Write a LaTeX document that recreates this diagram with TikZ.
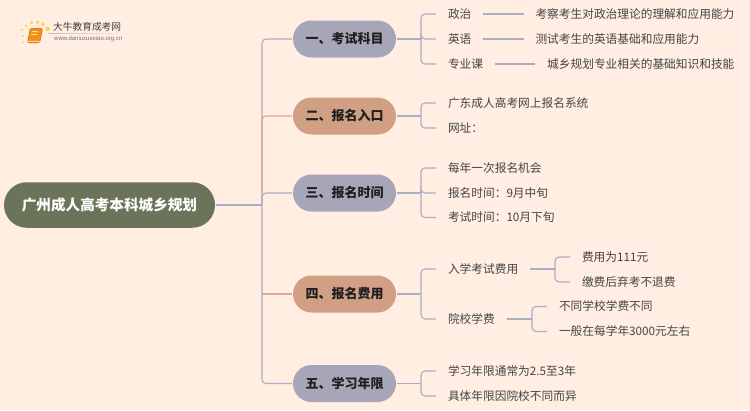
\documentclass[tikz,border=0pt]{standalone}
\usepackage{fontspec}
\setmainfont{Noto Sans CJK SC}
\newfontfamily\latinf{Liberation Sans}
\definecolor{bgc}{HTML}{FFEEE1}
\definecolor{rootc}{HTML}{6B7359}
\definecolor{greyc}{HTML}{A6A6B8}
\definecolor{salmc}{HTML}{D1A084}
\definecolor{linec}{HTML}{ABADC6}
\definecolor{linesc}{HTML}{E0A98C}
\definecolor{txtc}{HTML}{444444}
\definecolor{dotc}{HTML}{FFD24D}
\definecolor{bookc}{HTML}{F0920F}
\definecolor{bookd}{HTML}{E0760A}
\usetikzlibrary{fadings}
\tikzset{
 rootbox/.style={rounded corners=22.7pt,fill=rootc,text=white,font=\fontsize{14.6}{16}\selectfont\bfseries,minimum width=211pt,minimum height=45.5pt,inner sep=0pt,outer sep=1pt},
 topicbox/.style={rounded corners=18.5pt,text=black!88,font=\fontsize{13}{15}\selectfont\bfseries,minimum width=103pt,minimum height=37pt,inner sep=0pt,outer sep=1pt},
 leafbox/.style={anchor=west,text=txtc,font=\fontsize{11.7}{14}\selectfont,inner xsep=12pt,inner ysep=2pt,outer sep=0pt},
 conn/.style={draw=linec,line width=1.1pt,rounded corners=4pt},
 conns/.style={draw=linesc,line width=1.1pt,rounded corners=4pt},
}
\begin{document}
\begin{tikzpicture}[x=1pt,y=-1pt]
\useasboundingbox (0,0) rectangle (750,410);
\fill[bgc] (0,0) rectangle (750,410);
% logo
\fill[dotc] (22,30) circle (1.2) (26,25.7) circle (1.4) (31.7,22.7) circle (1.7) (37.7,22.3) circle (1.9) (43,24.3) circle (1.9) (47.7,29) circle (2.2) (22.7,36) circle (1.1) (23.3,42.3) circle (0.9);
\fill[bookd,rounded corners=1.5pt] (27,43) -- (30,28) -- (43,28) -- (40,43) -- cycle;
\fill[white!70!orange] (27.8,40.6) -- (39.6,40.6) -- (39.3,41.8) -- (27.6,41.8) -- cycle;
\fill[bookc,rounded corners=1pt] (28.2,40.4) -- (30.8,28.5) -- (42.3,28.5) -- (39.6,40.4) -- cycle;
\fill[white!70!orange] (32,31) -- (38,31) -- (37.8,32.2) -- (31.8,32.2) -- cycle (31.4,34) -- (37.4,34) -- (37.2,35) -- (31.2,35) -- cycle;
\fill[black!25,path fading=east] (48,33) rectangle (130,33.8);
\node[inner sep=0pt,anchor=west,text=black!75,font=\fontsize{9.7}{11}\selectfont] (logot) at (53,27) {大牛教育成考网};
\node[inner sep=0pt,anchor=west,text=black!55,font=\latinf\fontsize{6}{7}\selectfont] (logou) at (54,39) {www.daniuxuexiao.org.cn};
% root and topics
\node[rootbox] (root) at (109.5,205) {广州成人高考本科城乡规划};
\node[topicbox,fill=greyc] (t1) at (344.5,39) {一、考试科目};
\node[topicbox,fill=salmc] (t2) at (344.5,116) {二、报名入口};
\node[topicbox,fill=greyc] (t3) at (344.5,193) {三、报名时间};
\node[topicbox,fill=salmc] (t4) at (344.5,294) {四、报名费用};
\node[topicbox,fill=greyc] (t5) at (344.5,383.5) {五、学习年限};
% leaves
\node[leafbox] (a1) at (436,14) {政治};
\node[leafbox] (a2) at (436,39) {英语};
\node[leafbox] (a3) at (436,64) {专业课};
\node[leafbox] (a1x) at (523.5,14) {考察考生对政治理论的理解和应用能力};
\node[leafbox] (a2x) at (523.5,39) {测试考生的英语基础和应用能力};
\node[leafbox] (a3x) at (535.2,64) {城乡规划专业相关的基础知识和技能};
\node[leafbox] (b1) at (436,103) {广东成人高考网上报名系统};
\node[leafbox] (b2) at (436,128) {网址：};
\node[leafbox] (c1) at (436,168) {每年一次报名机会};
\node[leafbox] (c2) at (436,193) {报名时间：9月中旬};
\node[leafbox] (c3) at (436,217.5) {考试时间：10月下旬};
\node[leafbox] (d1) at (436,269) {入学考试费用};
\node[leafbox] (d2) at (436,319) {院校学费};
\node[leafbox] (d1a) at (570,257) {费用为111元};
\node[leafbox] (d1b) at (570,282) {缴费后弃考不退费};
\node[leafbox] (d2a) at (547,306.5) {不同学校学费不同};
\node[leafbox] (d2b) at (547,331.5) {一般在每学年3000元左右};
\node[leafbox] (e1) at (436,371) {学习年限通常为2.5至3年};
\node[leafbox] (e2) at (436,396) {具体年限因院校不同而异};
% junctions
\coordinate (jr) at (262,205);
\coordinate (jt3) at (262,193);
\coordinate (jt4) at (262,294);
\coordinate (j1) at (421,39);
\coordinate (j2) at (421,116);
\coordinate (j3) at (421,193);
\coordinate (j4) at (421,294);
\coordinate (j5) at (421,383.5);
\coordinate (j4a) at (555,269);
\coordinate (j4b) at (532,319);
% connectors
\draw[conn] (root.east) -- (jr);
\draw[conn] (jr) |- (t1.west);
\draw[conns] (jt3) |- (t2.west);
\draw[conns] (jt4) -- (t4.west);
\draw[conn] (jr) |- (t3.west);
\draw[conn] (jr) |- (t5.west);
\foreach \t/\j in {t1/j1,t2/j2,t3/j3,t4/j4,t5/j5}{\draw[conn] (\t.east) -- (\j);}
\foreach \j/\n in {j1/a1,j1/a2,j1/a3,j2/b1,j2/b2,j3/c1,j3/c2,j3/c3,j4/d1,j4/d2,j5/e1,j5/e2,j4a/d1a,j4a/d1b,j4b/d2a,j4b/d2b}{\draw[conn] (\j) |- (\n.west);}
\draw[conn] (a1.east) -- (a1x.west);
\draw[conn] (a2.east) -- (a2x.west);
\draw[conn] (a3.east) -- (a3x.west);
\draw[conn] (d1.east) -- (j4a);
\draw[conn] (d2.east) -- (j4b);
\end{tikzpicture}
\end{document}
